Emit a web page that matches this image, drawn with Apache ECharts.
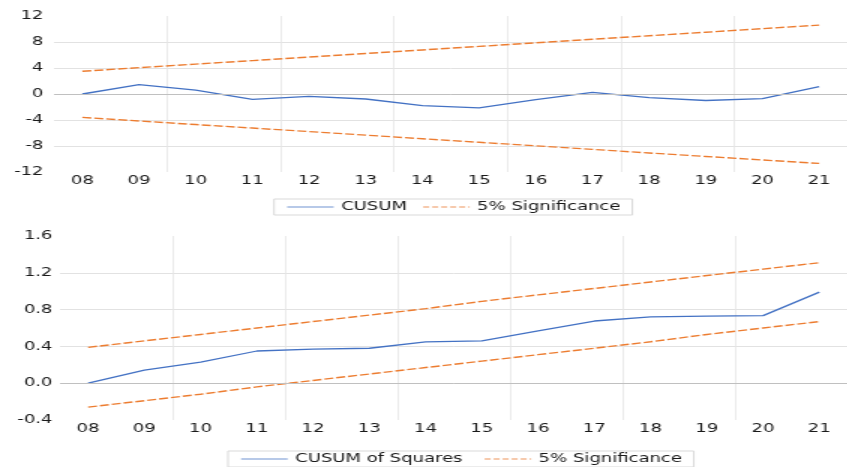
<!DOCTYPE html>
<html>
<head>
<meta charset="utf-8">
<script src="https://cdn.jsdelivr.net/npm/echarts@6/dist/echarts.min.js"></script>
<style>
html,body{margin:0;padding:0;background:#fff;overflow:hidden;}
#c{width:564.67px;height:467px;transform:scaleX(1.5);transform-origin:0 0;}
</style>
</head>
<body>
<div id="c"></div>
<script>
var categories = ['08','09','10','11','12','13','14','15','16','17','18','19','20','21'];
var cusum = [0, 1.43, 0.6, -0.82, -0.35, -0.77, -1.8, -2.15, -0.85, 0.26, -0.57, -1.0, -0.72, 1.13];
var cusumUpper = [3.5, 4.05, 4.6, 5.14, 5.68, 6.23, 6.78, 7.32, 7.87, 8.42, 8.96, 9.5, 10.05, 10.6];
var cusumLower = [-3.6, -4.15, -4.7, -5.24, -5.78, -6.33, -6.88, -7.43, -7.97, -8.52, -9.07, -9.61, -10.15, -10.68];
var cusumsq = [0, 0.143, 0.23, 0.35, 0.37, 0.38, 0.45, 0.46, 0.57, 0.676, 0.72, 0.73, 0.735, 0.99];
var sqUpper = [0.39, 0.46, 0.53, 0.60, 0.67, 0.74, 0.81, 0.89, 0.96, 1.03, 1.10, 1.17, 1.24, 1.31];
var sqLower = [-0.26, -0.19, -0.12, -0.04, 0.03, 0.10, 0.17, 0.24, 0.31, 0.38, 0.45, 0.53, 0.60, 0.67];

var FONT = 'DejaVu Sans';
var TXT = '#1a1a1a';
var BLUE = '#4472C4', ORANGE = '#ED7D31';
var GRIDC = '#e2e2e2';

function xAx(gi) {
  return {
    type: 'category', gridIndex: gi, data: categories, boundaryGap: true,
    axisLine: {show: false}, axisTick: {show: false},
    axisLabel: {color: TXT, fontFamily: FONT, fontSize: 12, margin: 3},
    splitLine: {show: true, interval: function (i) { return i % 2 === 0 && i !== 0; },
      lineStyle: {color: '#e6e6e6', width: 0.8}}
  };
}
function yAx(gi, min, max, itv, fmt, margin) {
  return {
    type: 'value', gridIndex: gi, min: min, max: max, interval: itv,
    axisLine: {show: false}, axisTick: {show: false},
    axisLabel: {color: TXT, fontFamily: FONT, fontSize: 12, margin: margin, formatter: fmt},
    splitLine: {show: true, showMinLine: false, showMaxLine: false, lineStyle: {color: GRIDC, width: 1}}
  };
}
var zeroLine = {silent: true, symbol: 'none', label: {show: false},
  lineStyle: {color: '#c0c0c0', type: 'solid', width: 1}, data: [{yAxis: 0}]};

function sigSeries(data, xi, yi, withZero) {
  var s = {name: '5% Significance', type: 'line', xAxisIndex: xi, yAxisIndex: yi, data: data,
    symbol: 'none', lineStyle: {color: ORANGE, width: 1.4, type: [6, 2]}, itemStyle: {color: ORANGE}, z: 3};
  if (withZero) s.markLine = zeroLine;
  return s;
}
function legendObj(left, top, names, gap) {
  return {
    left: left, top: top, orient: 'horizontal',
    padding: [2, 8], itemGap: gap, itemWidth: 31, itemHeight: 11,
    borderColor: '#d9d9d9', borderWidth: 1,
    textStyle: {color: TXT, fontFamily: FONT, fontSize: 12},
    data: [
      {name: names[0], itemStyle: {color: '#9fb7e0', opacity: 0, borderWidth: 0},
        lineStyle: {color: '#9fb7e0', width: 1.5, opacity: 1}},
      {name: '5% Significance', itemStyle: {color: '#f4b891', opacity: 0, borderWidth: 0},
        lineStyle: {color: '#f4b891', width: 1.5, type: [4, 2], opacity: 1}}
    ]
  };
}

var chart = echarts.init(document.getElementById('c'));
chart.setOption({
  animation: false,
  backgroundColor: '#fff',
  grid: [
    {left: 36, top: 16, width: 536, height: 156},
    {left: 40, top: 236, width: 531.3, height: 184}
  ],
  xAxis: [xAx(0), xAx(1)],
  yAxis: [
    yAx(0, -12, 12, 4, function (v) { return String(v); }, 7),
    yAx(1, -0.4, 1.6, 0.4, function (v) { return v.toFixed(1); }, 5)
  ],
  legend: [
    legendObj(182.7, 199, ['CUSUM'], 10),
    legendObj(152, 451, ['CUSUM of Squares'], 14)
  ],
  series: [
    sigSeries(cusumUpper, 0, 0, false),
    sigSeries(cusumLower, 0, 0, true),
    {name: 'CUSUM', type: 'line', xAxisIndex: 0, yAxisIndex: 0, data: cusum, symbol: 'none',
      lineStyle: {color: BLUE, width: 1.3}, itemStyle: {color: BLUE}, z: 4},
    sigSeries(sqUpper, 1, 1, false),
    sigSeries(sqLower, 1, 1, true),
    {name: 'CUSUM of Squares', type: 'line', xAxisIndex: 1, yAxisIndex: 1, data: cusumsq, symbol: 'none',
      lineStyle: {color: BLUE, width: 1.3}, itemStyle: {color: BLUE}, z: 4}
  ]
});
</script>
</body>
</html>
